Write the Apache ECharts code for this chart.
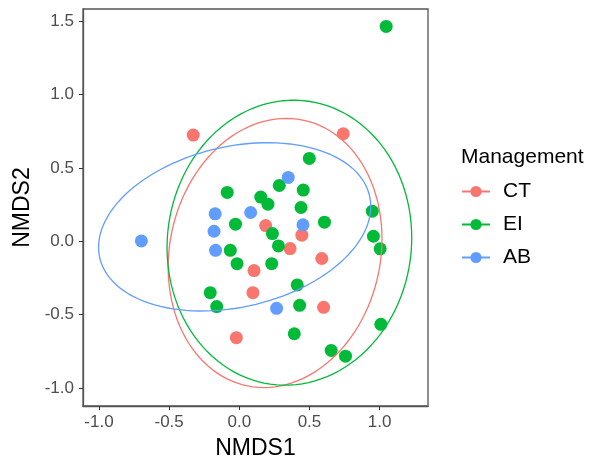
<!DOCTYPE html>
<html>
<head>
<meta charset="utf-8">
<script src="https://cdn.jsdelivr.net/npm/echarts@6/dist/echarts.min.js"></script>
<style>
  html, body { margin: 0; padding: 0; background: #fff; }
  #chart { width: 593px; height: 460px; }
</style>
</head>
<body>
<div id="chart"></div>
<script>
var groups = ['CT', 'EI', 'AB'];
var colors = ['#F8766D', '#00BA38', '#619CFF'];

// NMDS scores
var ctX = [-0.328, 0.741, 0.188, 0.446, 0.362, 0.588, 0.105, 0.097, 0.601, -0.021];
var ctY = [0.724, 0.733, 0.107, 0.041, -0.050, -0.118, -0.200, -0.351, -0.451, -0.658];

var eiX = [1.047, 0.499, 0.285, 0.456, -0.086, 0.153, 0.204, 0.440, 0.948, 0.607, -0.027, 0.236, 0.956,
           0.279, 1.004, -0.064, -0.016, 0.231, 0.413, -0.207, -0.161, 0.430, 1.009, 0.392, 0.655, 0.757];
var eiY = [1.465, 0.565, 0.380, 0.349, 0.333, 0.301, 0.253, 0.230, 0.205, 0.130, 0.116, 0.052, 0.034,
           -0.032, -0.052, -0.062, -0.153, -0.153, -0.298, -0.351, -0.446, -0.437, -0.567, -0.631, -0.745, -0.784];

var abX = [-0.698, 0.349, -0.172, 0.081, -0.180, 0.454, -0.169, 0.266];
var abY = [0.002, 0.435, 0.187, 0.196, 0.068, 0.112, -0.062, -0.458];

// 95% ellipses: centre, x / y half-extent, phase between x and y (degrees)
var ellCx = [0.255, 0.357, -0.033];
var ellCy = [-0.080, -0.010, 0.098];
var ellRx = [0.762, 0.872, 0.970];
var ellRy = [0.918, 0.972, 0.574];
var ellPhase = [84, 88, 76];

var xTicks = [-1.0, -0.5, 0.0, 0.5, 1.0];
var yTicks = [-1.0, -0.5, 0.0, 0.5, 1.0, 1.5];

function pairs(xs, ys) {
    var out = [];
    for (var i = 0; i < xs.length; i++) out.push([xs[i], ys[i]]);
    return out;
}

function ellipse(i) {
    var out = [];
    var phi = ellPhase[i] * Math.PI / 180;
    for (var k = 0; k <= 120; k++) {
        var t = 2 * Math.PI * k / 120;
        out.push([ellCx[i] + ellRx[i] * Math.cos(t), ellCy[i] + ellRy[i] * Math.cos(t - phi)]);
    }
    return out;
}

var points = [pairs(ctX, ctY), pairs(eiX, eiY), pairs(abX, abY)];

var series = [];
// ellipse lines first so the legend key is a line with a dot, like ggplot
groups.forEach(function (g, i) {
    series.push({
        name: g,
        type: 'line',
        data: ellipse(i),
        showSymbol: false,
        symbol: 'none',
        z: 4,
        color: colors[i],
        lineStyle: { color: colors[i], width: 1.3 },
        silent: true
    });
});
groups.forEach(function (g, i) {
    series.push({
        name: g,
        type: 'scatter',
        data: points[i],
        symbolSize: 13,
        z: 3,
        itemStyle: { color: colors[i], opacity: 1 }
    });
});

var labelFont = { fontFamily: 'Liberation Sans', fontSize: 17, color: '#4D4D4D' };

var myChart = echarts.init(document.getElementById('chart'));
var option = {
    animation: false,
    backgroundColor: '#fff',
    title: {
        text: 'Management',
        left: 456,
        top: 142,
        textStyle: { fontFamily: 'Liberation Sans', fontSize: 21, fontWeight: 'normal', color: '#000' }
    },
    legend: {
        orient: 'vertical',
        left: 461,
        top: 181,
        padding: 0,
        itemWidth: 28,
        itemHeight: 14,
        itemGap: 12,
        data: groups,
        textStyle: { fontFamily: 'Liberation Sans', fontSize: 21, color: '#000', padding: [0, 0, 0, 8] }
    },
    grid: {
        left: 83,
        right: 165,
        top: 9,
        bottom: 54,
        outerBoundsMode: 'none',
        containLabel: false,
        show: true,
        borderColor: '#555',
        borderWidth: 1.3,
        backgroundColor: '#fff'
    },
    xAxis: {
        type: 'value',
        min: -1.114,
        max: 1.345,
        name: 'NMDS1',
        nameLocation: 'middle',
        nameGap: 31,
        nameTextStyle: { fontFamily: 'Liberation Sans', fontSize: 23, color: '#000' },
        axisLine: { show: true, onZero: false, lineStyle: { color: '#555', width: 1.3 } },
        axisTick: { show: true, length: 4, customValues: xTicks, lineStyle: { color: '#333' } },
        axisLabel: Object.assign({
            customValues: xTicks,
            margin: 8,
            formatter: function (v) { return v.toFixed(1); }
        }, labelFont),
        splitLine: { show: false }
    },
    yAxis: {
        type: 'value',
        min: -1.124,
        max: 1.584,
        name: 'NMDS2',
        nameLocation: 'middle',
        nameGap: 47,
        nameTextStyle: { fontFamily: 'Liberation Sans', fontSize: 23, color: '#000' },
        axisLine: { show: true, onZero: false, lineStyle: { color: '#555', width: 1.3 } },
        axisTick: { show: true, length: 4, customValues: yTicks, lineStyle: { color: '#333' } },
        axisLabel: Object.assign({
            customValues: yTicks,
            margin: 9,
            formatter: function (v) { return v.toFixed(1); }
        }, labelFont),
        splitLine: { show: false }
    },
    series: series
};
myChart.setOption(option);
</script>
</body>
</html>
